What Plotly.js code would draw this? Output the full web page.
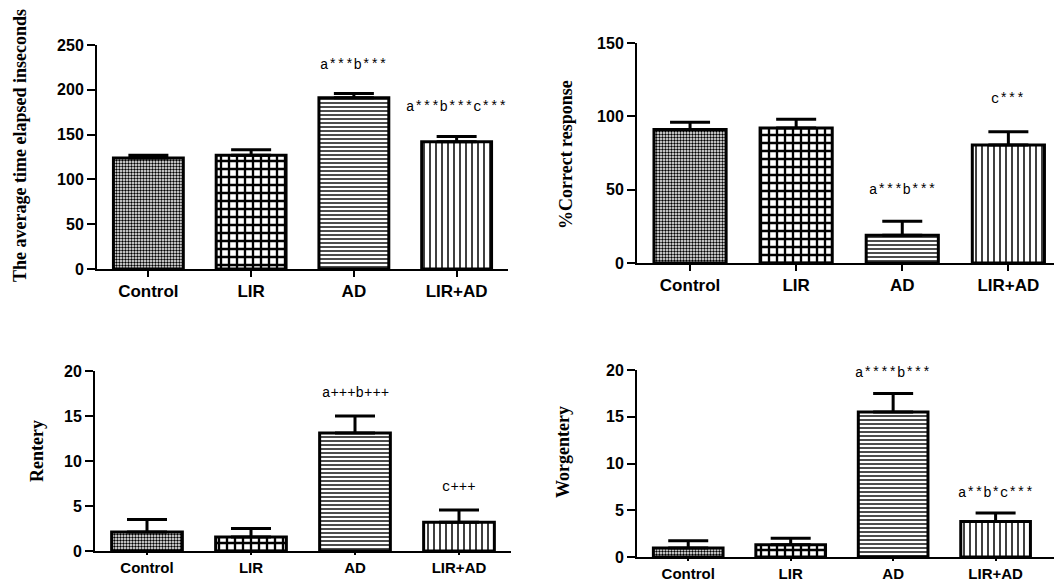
<!DOCTYPE html>
<html><head><meta charset="utf-8">
<script src="https://cdn.plot.ly/plotly-3.0.1.min.js"></script>
<style>html,body{margin:0;padding:0;background:#fff}#chart{width:1054px;height:581px}</style>
</head><body><div id="chart"></div>
<script>
// ---- data ----
const groups = ["Control", "LIR", "AD", "LIR+AD"];
const timeMean = [124, 127, 191, 142];
const timeErr = [3, 6, 5, 6];
const correctMean = [91, 92, 19, 80.5];
const correctErr = [5, 6, 9.5, 9];
const reentryMean = [2.1, 1.55, 13.1, 3.2];
const reentryErr = [1.4, 0.95, 1.9, 1.35];
const wrongMean = [0.95, 1.3, 15.5, 3.8];
const wrongErr = [0.8, 0.7, 2.0, 0.9];
const yTitles = ["The average time elapsed inseconds", "%Correct response", "Rentery", "Worgentery"];
const sigTime = [["AD", 228, "a***b***"], ["LIR+AD", 181, "a***b***c***"]];
const sigCorrect = [["AD", 50, "a***b***"], ["LIR+AD", 112, "c***"]];
const sigReentry = [["AD", 17.5, "a+++b+++"], ["LIR+AD", 7.1, "c+++"]];
const sigWrong = [["AD", 19.7, "a****b***"], ["LIR+AD", 6.8, "a**b*c***"]];

// ---- styles ----
const shapes = [".", "+", "-", "|"];
const sizes = [3, 8, 4, 6];
const sols = [0.5, 0.5, 0.35, 0.25];

function barTrace(xa, ya, mean, err) {
  return {
    type: "bar", x: groups, y: mean, xaxis: xa, yaxis: ya, width: 0.68,
    marker: {
      color: "white",
      line: { color: "black", width: 3 },
      pattern: { shape: shapes, size: sizes, solidity: sols, fgcolor: "black", bgcolor: "white", fillmode: "replace" }
    },
    error_y: { type: "data", symmetric: false, array: err, arrayminus: groups.map(() => 0),
      color: "black", thickness: 3, width: 20 },
    hoverinfo: "skip"
  };
}

const tickFontY = { family: "Liberation Sans, Arial, sans-serif", size: 16, weight: "bold", color: "black" };

function xAxis(domain, range, anchor, tl, fs) {
  return { domain, range, anchor, type: "category", showline: true, linewidth: 2, linecolor: "black",
    ticks: "outside", ticklen: tl, tickwidth: 2, tickcolor: "black",
    tickfont: { family: "Liberation Sans, Arial, sans-serif", size: fs, weight: "bold", color: "black" },
    showgrid: false, zeroline: false, fixedrange: true };
}
function yAxis(domain, range, dtick, anchor) {
  return { domain, range, anchor, dtick, tick0: 0, showline: true, linewidth: 2, linecolor: "black",
    ticks: "outside", ticklen: 8, tickwidth: 2, tickcolor: "black", tickfont: tickFontY,
    showgrid: false, zeroline: false, fixedrange: true };
}

const data = [
  barTrace("x", "y", timeMean, timeErr),
  barTrace("x2", "y2", correctMean, correctErr),
  barTrace("x3", "y3", reentryMean, reentryErr),
  barTrace("x4", "y4", wrongMean, wrongErr)
];

const annFont = { family: "Liberation Mono, DejaVu Sans Mono, monospace", size: 14, color: "black" };
const annotations = [];
function addSig(list, xr, yr) {
  list.forEach(s => annotations.push({ x: s[0], y: s[1], xref: xr, yref: yr, text: s[2], showarrow: false,
    font: annFont, xanchor: "center", yanchor: "middle" }));
}
addSig(sigTime, "x", "y");
addSig(sigCorrect, "x2", "y2");
addSig(sigReentry, "x3", "y3");
addSig(sigWrong, "x4", "y4");

const titleFont = { family: "Liberation Serif, Times New Roman, serif", size: 18, weight: "bold", color: "black" };
const titlePos = [[20, 146], [566, 155], [37, 451], [563, 452]];
yTitles.forEach((t, i) => annotations.push({ x: titlePos[i][0] / 1054, y: 1 - titlePos[i][1] / 581,
  xref: "paper", yref: "paper", text: t, textangle: -90, showarrow: false, font: titleFont,
  xanchor: "center", yanchor: "middle" }));

const layout = {
  width: 1054, height: 581, margin: { l: 0, r: 0, t: 0, b: 0 },
  paper_bgcolor: "white", plot_bgcolor: "white", showlegend: false, bargap: 0,
  xaxis: xAxis([97 / 1054, 508 / 1054], [-0.5, 3.5], "y", 6, 17),
  yaxis: yAxis([1 - 269 / 581, 1 - 45 / 581], [0, 250], 50, "x"),
  xaxis2: xAxis([637 / 1054, 1], [-0.5, 3.43], "y2", 6, 17),
  yaxis2: yAxis([1 - 263 / 581, 1 - 43 / 581], [0, 150], 50, "x2"),
  xaxis3: xAxis([95 / 1054, 511 / 1054], [-0.5, 3.5], "y3", 2, 15),
  yaxis3: yAxis([1 - 551 / 581, 1 - 371 / 581], [0, 20], 5, "x3"),
  xaxis4: xAxis([637 / 1054, 1], [-0.5, 3.57], "y4", 2, 15),
  yaxis4: yAxis([1 - 557 / 581, 1 - 370 / 581], [0, 20], 5, "x4"),
  annotations
};

Plotly.newPlot("chart", data, layout, { staticPlot: true, displayModeBar: false });
</script>
</body></html>
